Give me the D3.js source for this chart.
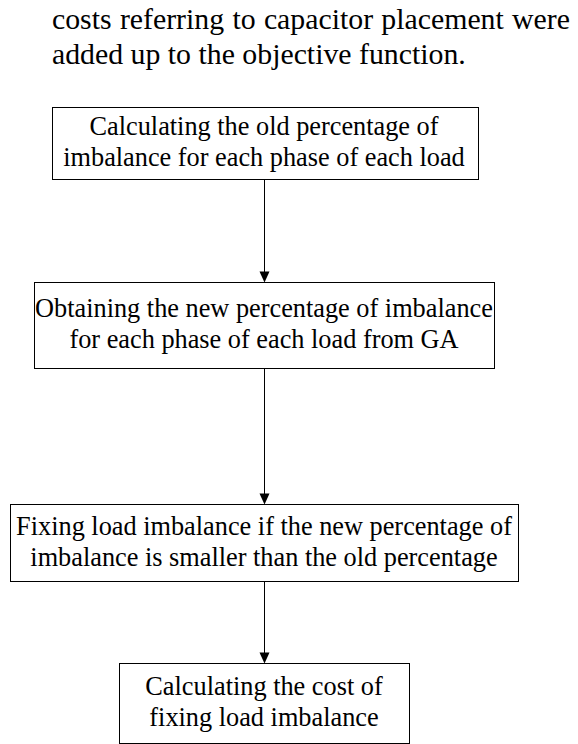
<!DOCTYPE html>
<html>
<head>
<meta charset="utf-8">
<script src="https://cdn.jsdelivr.net/npm/d3@7"></script>
<style>
  html, body { margin: 0; padding: 0; background: #fff; }
  svg { display: block; }
  svg text { font-family: "Liberation Serif", "Times New Roman", Times, serif; }
</style>
</head>
<body>
<svg id="chart" width="578" height="744"></svg>
<script>
// ---- content ----
const introLines = [
  "costs referring to capacitor placement were",
  "added up to the objective function."
];
const steps = [
  ["Calculating the old percentage of", "imbalance for each phase of each load"],
  ["Obtaining the new percentage of imbalance", "for each phase of each load from GA"],
  ["Fixing load imbalance if the new percentage of", "imbalance is smaller than the old percentage"],
  ["Calculating the cost of", "fixing load imbalance"]
];
const links = [[0, 1], [1, 2], [2, 3]];

// ---- layout (positions / sizes kept apart from content) ----
const boxLeft   = [52, 34, 10, 119];
const boxRight  = [478, 494, 518, 409];
const boxTop    = [107, 282, 504, 663];
const boxBottom = [179, 368, 581, 743];

const boxFont = 26.3;
const introFont = 29.8;
const cx = 264;

const svg = d3.select("#chart");

// intro paragraph (justified first line)
const introLeft = 52, introRight = 570;
const introBase = [29, 64];
introLines.forEach((line, li) => {
  const words = line.split(" ");
  const g = svg.append("g");
  const nodes = words.map(w => g.append("text")
    .style("font-size", introFont + "px")
    .attr("fill", "#000").attr("y", introBase[li]).text(w));
  const widths = nodes.map(n => n.node().getComputedTextLength());
  const total = d3.sum(widths);
  let gap;
  if (li < introLines.length - 1) gap = (introRight - introLeft - total) / (words.length - 1);
  else gap = introFont * 0.25;
  let x = introLeft;
  nodes.forEach((n, i) => { n.attr("x", x); x += widths[i] + gap; });
});

// boxes
const gBoxes = svg.append("g");
steps.forEach((lines, i) => {
  gBoxes.append("rect")
    .attr("x", boxLeft[i] + 0.5).attr("y", boxTop[i] + 0.5)
    .attr("width", boxRight[i] - boxLeft[i]).attr("height", boxBottom[i] - boxTop[i])
    .attr("fill", "#fff").attr("stroke", "#000").attr("stroke-width", 1);
  const c = (boxTop[i] + boxBottom[i]) / 2;
  const t = gBoxes.append("text")
    .style("font-size", boxFont + "px")
    .attr("text-anchor", "middle").attr("fill", "#000");
  t.append("tspan").attr("x", cx).attr("y", c - 8).text(lines[0]);
  t.append("tspan").attr("x", cx).attr("y", c + 23).text(lines[1]);
});

// arrows
links.forEach(([a, b]) => {
  const y0 = boxBottom[a] + 0.5, y1 = boxTop[b] + 0.5;
  svg.append("line")
    .attr("x1", cx + 0.5).attr("x2", cx + 0.5)
    .attr("y1", y0).attr("y2", y1 - 10)
    .attr("stroke", "#000").attr("stroke-width", 1);
  const p = d3.path();
  p.moveTo(cx + 0.5 - 5, y1 - 11);
  p.lineTo(cx + 0.5 + 5, y1 - 11);
  p.lineTo(cx + 0.5, y1);
  p.closePath();
  svg.append("path").attr("d", p.toString()).attr("fill", "#000");
});
</script>
</body>
</html>
